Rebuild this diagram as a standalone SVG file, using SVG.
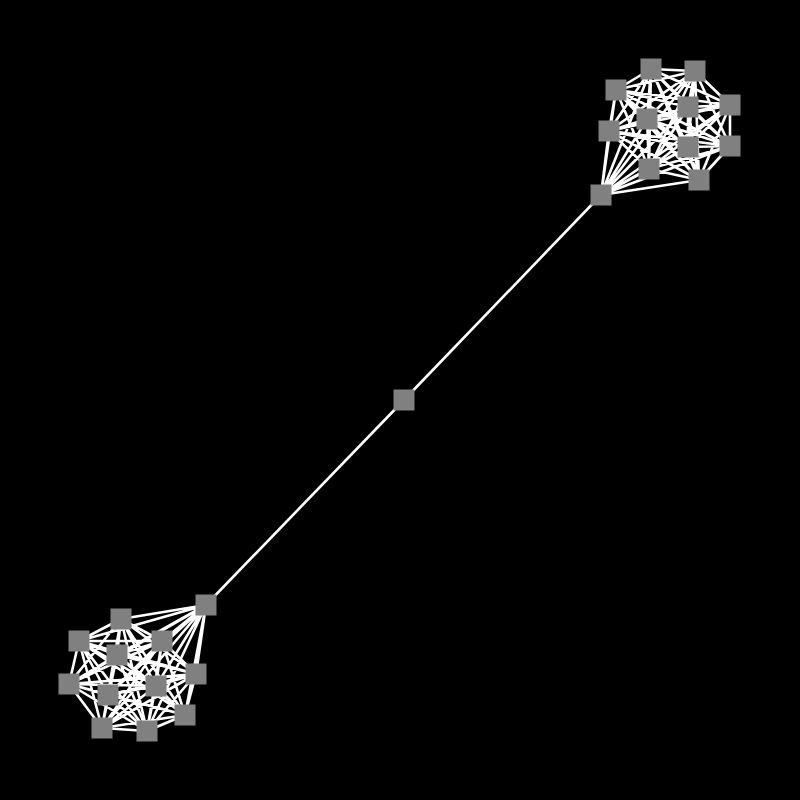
<svg xmlns="http://www.w3.org/2000/svg" width="800" height="800" viewBox="0 0 800 800">
<style>
.e{stroke:#ffffff;stroke-width:2.6;fill:none;stroke-linecap:butt}
.n{fill:#808080}
</style>
<rect x="0" y="0" width="800" height="800" fill="#000000"/>
<g id="connectors">
<path id="clique-top" class="e" d="M651 69L695 71M651 69L616 90M651 69L730 105M651 69L688 107M651 69L647 119M651 69L609 131M651 69L730 146M651 69L688 147M651 69L649 169M651 69L699 180M651 69L601 195
M695 71L616 90M695 71L730 105M695 71L688 107M695 71L647 119M695 71L609 131M695 71L730 146M695 71L688 147M695 71L649 169M695 71L699 180M695 71L601 195
M616 90L730 105M616 90L688 107M616 90L647 119M616 90L609 131M616 90L730 146M616 90L688 147M616 90L649 169M616 90L699 180M616 90L601 195
M730 105L688 107M730 105L647 119M730 105L609 131M730 105L730 146M730 105L688 147M730 105L649 169M730 105L699 180M730 105L601 195
M688 107L647 119M688 107L609 131M688 107L730 146M688 107L688 147M688 107L649 169M688 107L699 180M688 107L601 195
M647 119L609 131M647 119L730 146M647 119L688 147M647 119L649 169M647 119L699 180M647 119L601 195
M609 131L730 146M609 131L688 147M609 131L649 169M609 131L699 180M609 131L601 195
M730 146L688 147M730 146L649 169M730 146L699 180M730 146L601 195
M688 147L649 169M688 147L699 180M688 147L601 195
M649 169L699 180M649 169L601 195
M699 180L601 195"/>
<path id="clique-bottom" class="e" d="M206 605L121 619M206 605L79 641M206 605L162 641M206 605L117 655M206 605L196 674M206 605L69 684M206 605L156 686M206 605L108 695M206 605L185 715M206 605L102 728M206 605L147 731
M121 619L79 641M121 619L162 641M121 619L117 655M121 619L196 674M121 619L69 684M121 619L156 686M121 619L108 695M121 619L185 715M121 619L102 728M121 619L147 731
M79 641L162 641M79 641L117 655M79 641L196 674M79 641L69 684M79 641L156 686M79 641L108 695M79 641L185 715M79 641L102 728M79 641L147 731
M162 641L117 655M162 641L196 674M162 641L69 684M162 641L156 686M162 641L108 695M162 641L185 715M162 641L102 728M162 641L147 731
M117 655L196 674M117 655L69 684M117 655L156 686M117 655L108 695M117 655L185 715M117 655L102 728M117 655L147 731
M196 674L69 684M196 674L156 686M196 674L108 695M196 674L185 715M196 674L102 728M196 674L147 731
M69 684L156 686M69 684L108 695M69 684L185 715M69 684L102 728M69 684L147 731
M156 686L108 695M156 686L185 715M156 686L102 728M156 686L147 731
M108 695L185 715M108 695L102 728M108 695L147 731
M185 715L102 728M185 715L147 731
M102 728L147 731"/>
<line class="e" x1="601" y1="195" x2="404" y2="400"/>
<line class="e" x1="404" y1="400" x2="206" y2="605"/>
</g>
<g id="t1"><rect class="n" x="640.5" y="58.5" width="21" height="21"/></g>
<g id="t2"><rect class="n" x="684.5" y="60.5" width="21" height="21"/></g>
<g id="t3"><rect class="n" x="605.5" y="79.5" width="21" height="21"/></g>
<g id="t4"><rect class="n" x="719.5" y="94.5" width="21" height="21"/></g>
<g id="t5"><rect class="n" x="677.5" y="96.5" width="21" height="21"/></g>
<g id="t6"><rect class="n" x="636.5" y="108.5" width="21" height="21"/></g>
<g id="t7"><rect class="n" x="598.5" y="120.5" width="21" height="21"/></g>
<g id="t8"><rect class="n" x="719.5" y="135.5" width="21" height="21"/></g>
<g id="t9"><rect class="n" x="677.5" y="136.5" width="21" height="21"/></g>
<g id="t10"><rect class="n" x="638.5" y="158.5" width="21" height="21"/></g>
<g id="t11"><rect class="n" x="688.5" y="169.5" width="21" height="21"/></g>
<g id="t12"><rect class="n" x="590.5" y="184.5" width="21" height="21"/></g>
<g id="mid"><rect class="n" x="393.5" y="389.5" width="21" height="21"/></g>
<g id="b1"><rect class="n" x="195.5" y="594.5" width="21" height="21"/></g>
<g id="b2"><rect class="n" x="110.5" y="608.5" width="21" height="21"/></g>
<g id="b3"><rect class="n" x="68.5" y="630.5" width="21" height="21"/></g>
<g id="b4"><rect class="n" x="151.5" y="630.5" width="21" height="21"/></g>
<g id="b5"><rect class="n" x="106.5" y="644.5" width="21" height="21"/></g>
<g id="b6"><rect class="n" x="185.5" y="663.5" width="21" height="21"/></g>
<g id="b7"><rect class="n" x="58.5" y="673.5" width="21" height="21"/></g>
<g id="b8"><rect class="n" x="145.5" y="675.5" width="21" height="21"/></g>
<g id="b9"><rect class="n" x="97.5" y="684.5" width="21" height="21"/></g>
<g id="b10"><rect class="n" x="174.5" y="704.5" width="21" height="21"/></g>
<g id="b11"><rect class="n" x="91.5" y="717.5" width="21" height="21"/></g>
<g id="b12"><rect class="n" x="136.5" y="720.5" width="21" height="21"/></g>
</svg>
